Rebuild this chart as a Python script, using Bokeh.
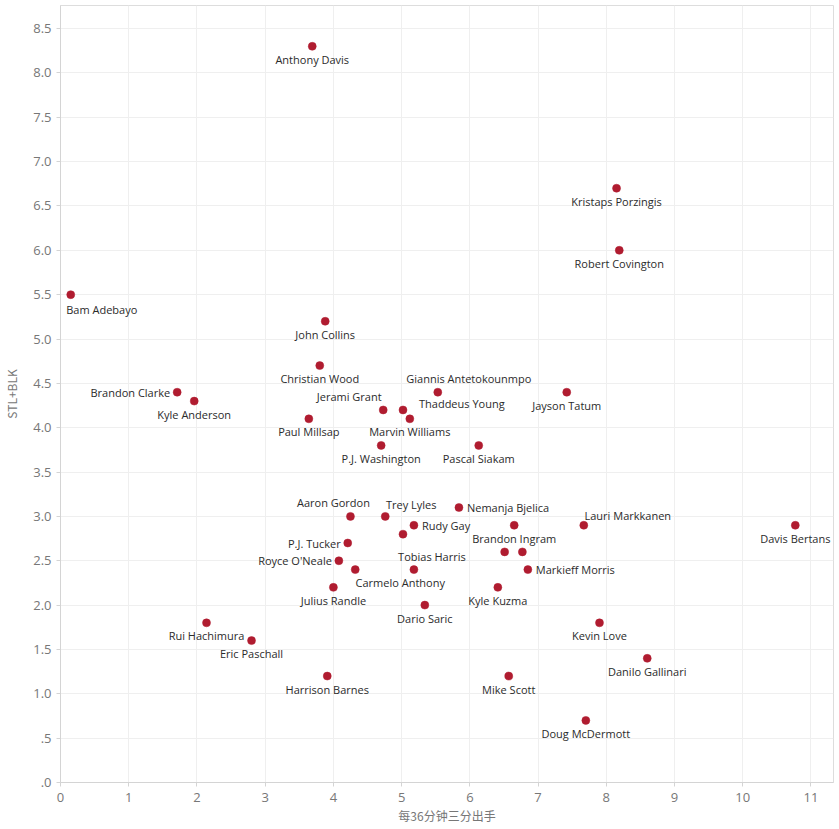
from bokeh.plotting import figure
from bokeh.models import ColumnDataSource, FixedTicker, Range1d
from bokeh.core.properties import value
from bokeh.embed import file_html
from bokeh.resources import INLINE

# ---- data ----
players = [
    "Anthony Davis", "Kristaps Porzingis", "Robert Covington", "Bam Adebayo",
    "John Collins", "Christian Wood", "Brandon Clarke", "Kyle Anderson",
    "Giannis Antetokounmpo", "Jayson Tatum", "Jerami Grant", "Thaddeus Young",
    "Paul Millsap", "Marvin Williams", "P.J. Washington", "Pascal Siakam",
    "Aaron Gordon", "Trey Lyles", "Nemanja Bjelica", "Lauri Markkanen",
    "Davis Bertans", "Rudy Gay", "", "Brandon Ingram", "P.J. Tucker",
    "Tobias Harris", "Royce O'Neale", "", "", "Markieff Morris",
    "Carmelo Anthony", "Julius Randle", "Kyle Kuzma", "Dario Saric",
    "Rui Hachimura", "Kevin Love", "Eric Paschall", "Danilo Gallinari",
    "Harrison Barnes", "Mike Scott", "Doug McDermott",
]
three_pa_per36 = [
    3.69, 8.15, 8.19, 0.15,
    3.88, 3.80, 1.71, 1.96,
    5.53, 7.42, 4.73, 5.02,
    3.64, 5.12, 4.70, 6.13,
    4.25, 4.76, 5.84, 7.67,
    10.77, 5.18, 5.02, 6.65, 4.21,
    5.18, 4.08, 6.51, 6.77, 6.85,
    4.32, 4.00, 6.41, 5.34,
    2.14, 7.90, 2.80, 8.60,
    3.91, 6.57, 7.70,
]
stl_blk = [
    8.3, 6.7, 6.0, 5.5,
    5.2, 4.7, 4.4, 4.3,
    4.4, 4.4, 4.2, 4.2,
    4.1, 4.1, 3.8, 3.8,
    3.0, 3.0, 3.1, 2.9,
    2.9, 2.9, 2.8, 2.9, 2.7,
    2.4, 2.5, 2.6, 2.6, 2.4,
    2.4, 2.2, 2.2, 2.0,
    1.8, 1.8, 1.6, 1.4,
    1.2, 1.2, 0.7,
]
x_ticks = [0, 1, 2, 3, 4, 5, 6, 7, 8, 9, 10, 11]
x_tick_labels = ["0", "1", "2", "3", "4", "5", "6", "7", "8", "9", "10", "11"]
y_ticks = [0.0, 0.5, 1.0, 1.5, 2.0, 2.5, 3.0, 3.5, 4.0, 4.5, 5.0, 5.5, 6.0, 6.5, 7.0, 7.5, 8.0, 8.5]
y_tick_labels = [".0", ".5", "1.0", "1.5", "2.0", "2.5", "3.0", "3.5", "4.0", "4.5",
                 "5.0", "5.5", "6.0", "6.5", "7.0", "7.5", "8.0", "8.5"]
x_title = "每36分钟三分出手"
y_title = "STL+BLK"

# ---- label placement (pixels: dx, dy(screen down), align) ----
BELOW = (0, 13, "center")
label_place = {
    "Bam Adebayo": (31, 15, "center"),
    "Brandon Clarke": (-7, 0, "right"),
    "Jerami Grant": (-34, -13, "center"),
    "Thaddeus Young": (16, -6, "left"),
    "Giannis Antetokounmpo": (31, -14, "center"),
    "Aaron Gordon": (-17, -14, "center"),
    "Trey Lyles": (26, -12, "center"),
    "Rudy Gay": (8, 0, "left"),
    "Nemanja Bjelica": (8, 0, "left"),
    "P.J. Tucker": (-7, 0, "right"),
    "Royce O'Neale": (-7, 0, "right"),
    "Carmelo Anthony": (45, 13, "center"),
    "Tobias Harris": (18, -13, "center"),
    "Markieff Morris": (8, 0, "left"),
    "Lauri Markkanen": (44, -10, "center"),
}
dx, dy, al = [], [], []
for n in players:
    a, b, c = label_place.get(n, BELOW)
    dx.append(a)
    dy.append(b)
    al.append(c)

src = ColumnDataSource(dict(x=three_pa_per36, y=stl_blk, name=players,
                            dx=dx, dy=dy, align=al))

p = figure(width=839, height=829, output_backend="svg", toolbar_location=None,
           x_range=Range1d(0, 11.33), y_range=Range1d(0, 8.76),
           min_border_left=58, min_border_right=6, min_border_top=5,
           min_border_bottom=47)
p.background_fill_color = "white"
p.border_fill_color = "white"
p.outline_line_color = "#dddddd"

p.scatter("x", "y", source=src, size=8, fill_color="#b01c30",
          line_color="#b01c30", line_width=0.5)
p.text("x", "y", text="name", source=src, x_offset="dx", y_offset="dy",
       text_align="align", text_baseline="middle", text_font_size="11px",
       text_font=value("Open Sans"), text_color="#2b2b2b")

for ax in (p.xaxis[0], p.yaxis[0]):
    ax.axis_line_color = "#d4d4d4"
    ax.major_tick_line_color = "#d4d4d4"
    ax.major_tick_out = 4
    ax.major_tick_in = 0
    ax.minor_tick_line_color = None
    ax.major_label_text_color = "#777777"
    ax.major_label_text_font = "Open Sans"
    ax.major_label_text_font_size = "13px"
    ax.axis_label_text_color = "#777777"
    ax.axis_label_text_font = "Noto Sans CJK SC"
    ax.axis_label_text_font_size = "12px"
    ax.axis_label_text_font_style = "normal"

p.xaxis.ticker = FixedTicker(ticks=x_ticks)
p.xaxis.major_label_overrides = {t: l for t, l in zip(x_ticks, x_tick_labels)}
p.xaxis.axis_label = x_title
p.xaxis.major_label_standoff = 6
p.xaxis.axis_label_standoff = 2

p.yaxis.ticker = FixedTicker(ticks=y_ticks)
p.yaxis.major_label_overrides = {t: l for t, l in zip(y_ticks, y_tick_labels)}
p.yaxis.axis_label = y_title
p.yaxis.major_label_standoff = 5
p.yaxis.axis_label_standoff = 10

p.xgrid.ticker = FixedTicker(ticks=x_ticks)
p.ygrid.ticker = FixedTicker(ticks=y_ticks)
p.grid.grid_line_color = "#efefef"
p.grid.grid_line_width = 1

open("out.html", "w").write(file_html(p, INLINE))
